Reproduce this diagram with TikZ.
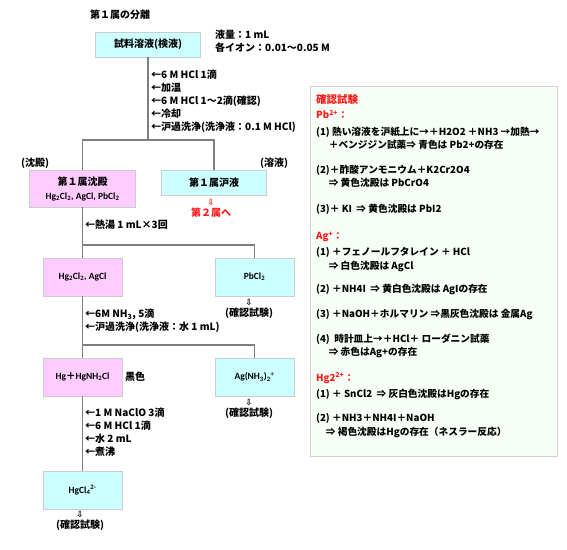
\documentclass[tikz,border=0pt]{standalone}
\usepackage{fontspec}
\setmainfont{Noto Sans CJK JP}
\newfontfamily\jpfont{Noto Sans CJK JP}
\newfontfamily\symfont{DejaVu Sans}
\newfontfamily\formfont{Carlito}
\usetikzlibrary{positioning}
\definecolor{cyanbox}{HTML}{CCFFFF}
\definecolor{pinkbox}{HTML}{FFCCFF}
\definecolor{panelbg}{HTML}{F8FFF6}
\definecolor{redtxt}{HTML}{FF1A1A}
\definecolor{linegray}{HTML}{7F7F7F}

\begin{document}
\begin{tikzpicture}[
  x=1pt, y=-1pt,
  every node/.style={font=\bfseries\fontsize{10}{13}\selectfont},
  box/.style={draw=gray!40, line width=0.9pt, minimum width=79pt, minimum height=38pt, align=center, inner sep=2pt},
  ppt/.style={box, fill=pinkbox},
  sol/.style={box, fill=cyanbox},
  conn/.style={draw=linegray, line width=1.2pt},
  reagent/.style={anchor=north west, align=left, inner sep=0pt},
  item/.style={anchor=north west, align=left, inner sep=0pt, font=\bfseries\fontsize{9.7}{13.5}\selectfont},
  head/.style={item, text=redtxt},
  formula/.style={font=\bfseries\formfont\fontsize{9.5}{12}\selectfont},
  check/.style={align=center, inner sep=0pt, font=\bfseries\fontsize{10}{11}\selectfont},
]
\useasboundingbox (0,0) rectangle (567,549);

% title and sample
\node (title) at (120,15) {第１属の分離};
\node[sol, minimum width=105pt, minimum height=25pt] (sample) at (148,44.5) {試料溶液(検液)};
\node[anchor=north west, align=left, inner sep=0pt] (amount) at (215,30) {液量：1 mL\\各イオン：0.01～0.05 M};

% first separation
\node[reagent] (add1) at (151,70) {←6 M HCl 1滴\\←加温\\←6 M HCl 1～2滴(確認)\\←冷却\\←沪過洗浄(洗浄液：0.1 M HCl)};
\coordinate (j1) at (148,140);
\node (pptlbl) at (35,163) {(沈殿)};
\node (sollbl) at (274,163) {(溶液)};
\node[ppt, minimum width=106pt, minimum height=37pt] (ppt1) at (82.5,188.5)
  {第１属沈殿\\[1pt]{\formfont\fontsize{9.5}{11}\selectfont Hg\textsubscript{2}Cl\textsubscript{2}, AgCl, PbCl\textsubscript{2}}};
\node[sol, minimum width=105pt, minimum height=25pt] (filt1) at (214,182.5) {第１属沪液};
\node[check, text=redtxt] (next) at (211,208) {{\symfont\fontsize{8.5}{9}\selectfont ⇩}\\[0pt]第２属へ};

% hot water
\node[reagent] (add2) at (85,220) {←熱湯 1 mL×3回};
\coordinate (j2) at (82.5,245);
\node[ppt, formula] (hgag) at (82.5,277) {Hg\textsubscript{2}Cl\textsubscript{2}, AgCl};
\node[sol, formula] (pbcl) at (254.5,277) {PbCl\textsubscript{2}};
\node[check] (pbchk) at (249,309) {{\symfont\fontsize{8.5}{9}\selectfont ⇩}\\(確認試験)};

% ammonia
\node[reagent] (add3) at (85,309) {←6M NH\textsubscript{3}, 5滴\\←沪過洗浄(洗浄液：水 1 mL)};
\coordinate (j3) at (82.5,345);
\node[ppt, formula] (hgnh) at (82.5,377) {Hg{\jpfont ＋}HgNH\textsubscript{2}Cl};
\node[anchor=west, inner sep=0pt] (black) at (125,377) {黒色};
\node[sol, formula] (agnh) at (254.5,377) {Ag(NH\textsubscript{3})\textsubscript{2}\textsuperscript{+}};
\node[check] (agchk) at (249,409) {{\symfont\fontsize{8.5}{9}\selectfont ⇩}\\(確認試験)};

% hypochlorite
\node[reagent] (add4) at (85,408) {←1 M NaClO 3滴\\←6 M HCl 1滴\\←水 2 mL\\←煮沸};
\node[sol, formula] (hgcl) at (82.5,490) {HgCl\textsubscript{4}\textsuperscript{2-}};
\node[check] (hgchk) at (80,521) {{\symfont\fontsize{8.5}{9}\selectfont ⇩}\\(確認試験)};

% connectors
\draw[conn] (sample.south) -- (j1);
\draw[conn] (ppt1.north) |- (j1) -| (filt1.north);
\draw[conn] (ppt1.south) -- (hgag.north);
\draw[conn] (j2) -| (pbcl.north);
\draw[conn] (hgag.south) -- (hgnh.north);
\draw[conn] (j3) -| (agnh.north);
\draw[conn] (hgnh.south) -- (hgcl.north);

% confirmation panel
\node[draw=gray!35, line width=0.9pt, fill=panelbg, minimum width=247pt, minimum height=370pt, inner sep=0pt] (panel) at (433.5,271) {};
\node[head, font=\bfseries\fontsize{10.5}{13}\selectfont] (chk) at (316,94) {確認試験};
\node[head] (pbhead) at (316,110) {Pb\textsuperscript{2+}：};
\node[item] (pb1) at (316,126.5) {(1) 熱い溶液を沪紙上に→＋H2O2 ＋NH3 →加熱→\\\hspace*{1.3em}＋ベンジジン試薬⇒ 青色は Pb2+の存在};
\node[item] (pb2) at (316,164.5) {(2)＋酢酸アンモニウム＋K2Cr2O4\\\hspace*{1.3em}⇒ 黄色沈殿は PbCrO4};
\node[item] (pb3) at (316,203.5) {(3)＋ KI \ ⇒ 黄色沈殿は PbI2};
\node[head] (aghead) at (316,231.5) {Ag\textsuperscript{+}：};
\node[item] (ag1) at (316,247.5) {(1) ＋フェノールフタレイン ＋ HCl\\\hspace*{1.3em}⇒ 白色沈殿は AgCl};
\node[item] (ag2) at (316,283.5) {(2) ＋NH4I \ ⇒ 黄白色沈殿は AgIの存在};
\node[item] (ag3) at (316,308.5) {(3) ＋NaOH＋ホルマリン ⇒黒灰色沈殿は 金属Ag};
\node[item] (ag4) at (316,333.5) {(4) \ 時計皿上→＋HCl＋ ローダニン試薬\\\hspace*{1.3em}⇒ 赤色はAg+の存在};
\node[head] (hghead) at (316,372.5) {Hg2\textsuperscript{2+}：};
\node[item] (hg1) at (316,388.5) {(1) ＋ SnCl2 \ ⇒ 灰白色沈殿はHgの存在};
\node[item] (hg2) at (316,413.5) {(2) ＋NH3＋NH4I＋NaOH\\\hspace*{1em}⇒ 褐色沈殿はHgの存在（ネスラー反応）};
\end{tikzpicture}
\end{document}
